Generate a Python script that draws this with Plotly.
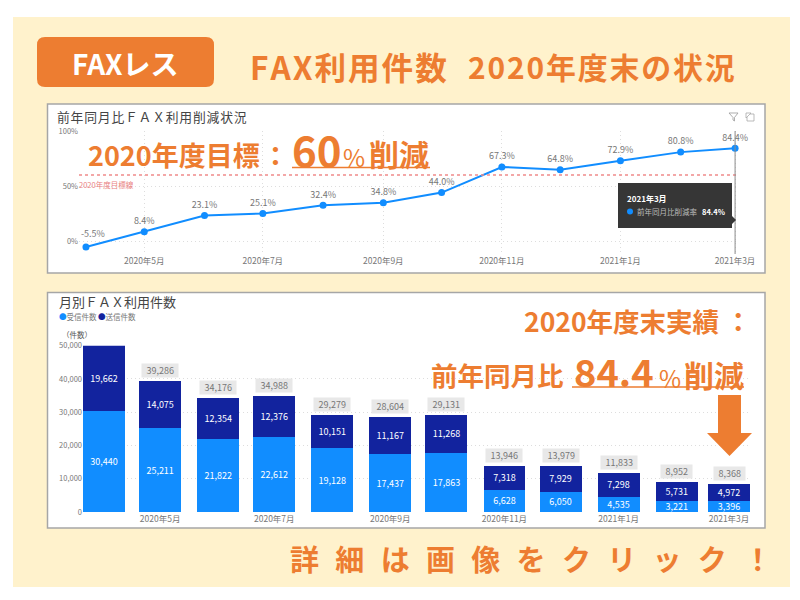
import plotly.graph_objects as go

months = ["2020-04-01","2020-05-01","2020-06-01","2020-07-01","2020-08-01","2020-09-01",
          "2020-10-01","2020-11-01","2020-12-01","2021-01-01","2021-02-01","2021-03-01"]
reduction_rate = [-5.5, 8.4, 23.1, 25.1, 32.4, 34.8, 44.0, 67.3, 64.8, 72.9, 80.8, 84.4]
received = [30440, 25211, 21822, 22612, 19128, 17437, 17863, 6628, 6050, 4535, 3221, 3396]
sent = [19662, 14075, 12354, 12376, 10151, 11167, 11268, 7318, 7929, 7298, 5731, 4972]
totals = [50102, 39286, 34176, 34988, 29279, 28604, 29131, 13946, 13979, 11833, 8952, 8368]
rate_ticks = [0, 50, 100]
rate_tick_labels = ["0%", "50%", "100%"]
count_ticks = [0, 10000, 20000, 30000, 40000, 50000]
target_rate = 60
rate_range = ["2020-03-28 10:00", "2021-03-02 12:00"]
count_range = ["2020-03-20 19:00", "2021-03-12 05:00"]

ORANGE = "#ED7D31"; CREAM = "#FFF2CC"; BLUE = "#118DFF"; NAVY = "#12239E"
GREY = "#777777"; FONT = "Noto Sans CJK JP"

def fx(x): return x / 800
def fy(y): return 1 - y / 600

def rect(x0, y0, x1, y1, fill, line=None, lw=0, layer="below"):
    return dict(type="rect", xref="paper", yref="paper", x0=fx(x0), x1=fx(x1), y0=fy(y1), y1=fy(y0),
                fillcolor=fill, line=dict(color=line or fill, width=lw), layer=layer)

def poly(pts, fill=None, line=None, lw=0, close=True):
    d = "M " + " L ".join(f"{fx(x):.5f},{fy(y):.5f}" for x, y in pts) + (" Z" if close else "")
    return dict(type="path", xref="paper", yref="paper", path=d, fillcolor=fill or "rgba(0,0,0,0)",
                line=dict(color=line or "rgba(0,0,0,0)", width=lw), layer="above")

def rrect(x0, y0, x1, y1, r, fill):
    X0, X1, Y0, Y1 = fx(x0), fx(x1), fy(y0), fy(y1)
    rx, ry = r / 800, r / 600
    d = (f"M {X0+rx},{Y0} L {X1-rx},{Y0} Q {X1},{Y0} {X1},{Y0-ry} L {X1},{Y1+ry} Q {X1},{Y1} {X1-rx},{Y1} "
         f"L {X0+rx},{Y1} Q {X0},{Y1} {X0},{Y1+ry} L {X0},{Y0-ry} Q {X0},{Y0} {X0+rx},{Y0} Z")
    return dict(type="path", xref="paper", yref="paper", path=d, fillcolor=fill, line=dict(color=fill, width=0), layer="below")

def label(x, y, text, size, color=ORANGE, bold=False, anchor="left"):
    return dict(xref="paper", yref="paper", x=fx(x), y=fy(y), xanchor=anchor, yanchor="middle", text=text,
                showarrow=False, borderpad=0, borderwidth=0,
                font=dict(family=FONT, size=size, color=color, weight=700 if bold else 400))

def spaced(text, gap="\u200a"):
    return gap.join(text)

fig = go.Figure()

rate_text = [""] + [f"{v:.1f}%" for v in reduction_rate[1:]]
fig.add_trace(go.Scatter(
    x=months, y=reduction_rate, xaxis="x", yaxis="y", mode="lines+markers+text",
    line=dict(color=BLUE, width=2), marker=dict(color=BLUE, size=7),
    text=rate_text, textposition="top center",
    textfont=dict(family=FONT, size=9, color=GREY), cliponaxis=False, showlegend=False))
fig.add_trace(go.Scatter(
    x=rate_range, y=[target_rate, target_rate], xaxis="x", yaxis="y", mode="lines",
    line=dict(color="#F08A8A", width=1.5, dash="3px,3px"), showlegend=False))

bar_w = 22.4 * 86400000
for vals, name, col in [(received, "受信件数", BLUE), (sent, "送信件数", NAVY)]:
    fig.add_trace(go.Bar(x=months, y=vals, xaxis="x2", yaxis="y2", name=name, marker=dict(color=col, line_width=0),
                         width=bar_w, texttemplate="%{y:,}", textposition="inside", insidetextanchor="middle",
                         textangle=0, constraintext="none",
                         textfont=dict(family=FONT, size=9, color="white"), showlegend=False))

shapes = [
    rect(13, 17, 790, 587, CREAM),
    rrect(37, 37, 214, 87, 8, ORANGE),
    rect(47.5, 104, 765, 273, "white", "#A6A6A6", 1.5),
    rect(47.5, 292.5, 765, 528, "white", "#A6A6A6", 1.5),
    poly([(292, 167.5), (430, 167.5)], line=ORANGE, lw=1.6, close=False),
    poly([(572, 387), (744, 387)], line=ORANGE, lw=1.6, close=False),
    poly([(718, 395), (741, 395), (741, 433), (752, 433), (729.5, 456), (707, 433), (718, 433)], fill=ORANGE),
    dict(type="line", xref="x", yref="paper", x0=months[-1], x1=months[-1], y0=fy(254), y1=fy(131),
         line=dict(color="#8A8A8A", width=1), layer="above"),
    rect(618, 183, 732, 228, "#363636", layer="above"),
    poly([(732, 216), (736, 220), (732, 224)], fill="#363636"),
    dict(type="circle", xref="paper", yref="paper", x0=fx(627), x1=fx(633), y0=fy(214.5), y1=fy(208.5),
         fillcolor=BLUE, line_width=0, layer="above"),
    poly([(729, 113), (738, 113), (734.5, 117.5), (734.5, 121), (733, 120), (733, 117.5)], line="#999999", lw=0.8),
    poly([(750, 114), (754, 114), (754, 121), (747, 121), (747, 117)], line="#AAAAAA", lw=0.8, close=False),
    poly([(746, 113), (746, 118), (751, 113), (746, 113)], line="#AAAAAA", lw=0.8),
]

annotations = [
    label(125.5, 63, "FAXレス", 28, "white", True, "center"),
    label(250, 66, spaced("FAX利用件数"), 31.6, ORANGE, True),
    label(468, 66, spaced("2020年度末の状況"), 29.9, ORANGE, True),
    label(57, 116.5, spaced("前年同月比ＦＡＸ利用削減状況"), 12.8, "#444444"),
    label(59, 301, "月別ＦＡＸ利用件数", 13, "#444444"),
    label(88, 155, "2020年度目標", 27, ORANGE, True),
    label(262, 155, "：", 27, ORANGE, True),
    label(292, 148, "60", 42, ORANGE, True),
    label(343, 156, "%", 24, ORANGE, False),
    label(369, 153, "削減", 30, ORANGE, True),
    label(79, 184, "2020年度目標線", 7.5, "#E98080"),
    label(524, 320, "2020年度末実績", 26.5, ORANGE, True),
    label(725, 320, "：", 26.5, ORANGE, True),
    label(431, 374, "前年同月比", 26.5, ORANGE, True),
    label(574, 370, "84.4", 38, ORANGE, True),
    label(659, 377, "%", 24, ORANGE, False),
    label(684, 374, "削減", 30, ORANGE, True),
    label(59, 316.5, f'<span style="color:{BLUE}">●</span>受信件数', 7.5, GREY),
    label(98, 316.5, f'<span style="color:{NAVY}">●</span>送信件数', 7.5, GREY),
    label(62, 334, "（件数）", 7.5, "#555555"),
    label(627, 198, "2021年3月", 8, "white", True),
    label(637, 211.5, "前年同月比削減率", 7.5, "#BBBBBB"),
    label(702, 211.5, "84.4%", 7.5, "white", True),
    label(290, 558, spaced("詳細は画像をクリック！", "\u2002\u200a"), 29, ORANGE, True),
    dict(xref="x", yref="y", x=months[0], y=reduction_rate[0], text=f"{reduction_rate[0]:.1f}%", showarrow=False,
         xanchor="center", yanchor="bottom", xshift=7, yshift=5, font=dict(family=FONT, size=9, color=GREY)),
]
for m, t in zip(months, totals):
    annotations.append(dict(xref="x2", yref="y2", x=m, y=t, text=f"\u2002{t:,}\u2002", showarrow=False, xanchor="center",
                            yanchor="bottom", yshift=3, bgcolor="#E8E8E8", borderpad=0,
                            font=dict(family=FONT, size=9, color=GREY)))

tick_font = dict(family=FONT, size=8.5, color=GREY)
grid = dict(showgrid=True, gridcolor="#DDDDDD", griddash="1px,3px", gridwidth=1, zeroline=False, showline=False, ticks="", automargin=False)

fig.update_layout(
    width=800, height=600, margin=dict(l=0, r=0, t=0, b=0, pad=0), autosize=False,
    paper_bgcolor="white", plot_bgcolor="rgba(0,0,0,0)", barmode="stack", showlegend=False,
    font=dict(family=FONT), shapes=shapes, annotations=annotations,
    xaxis=dict(domain=[fx(79), fx(738)], range=rate_range, type="date",
               tick0="2020-05-01", dtick="M2", tickformat="%Y年%-m月", tickfont=tick_font, anchor="y", **grid),
    yaxis=dict(domain=[fy(254), fy(131)], range=[-11.8, 100], tickmode="array", tickvals=rate_ticks, ticktext=rate_tick_labels,
               tickfont=dict(family=FONT, size=7.5, color=GREY), anchor="x", **grid),
    xaxis2=dict(domain=[fx(83), fx(750)], range=count_range, type="date",
                tick0="2020-05-01", dtick="M2", tickformat="%Y年%-m月", tickfont=tick_font, anchor="y2",
                showgrid=False, zeroline=False, showline=False, ticks="", automargin=False),
    yaxis2=dict(domain=[fy(512), fy(345.7)], range=[0, 50000], tickvals=count_ticks,
                tickformat=",", tickfont=dict(family=FONT, size=7.5, color=GREY), anchor="x2", **grid),
)
fig.write_html("out.html", config=dict(displayModeBar=False),
               post_script="document.body.style.margin='0';document.documentElement.style.overflow='hidden';")
